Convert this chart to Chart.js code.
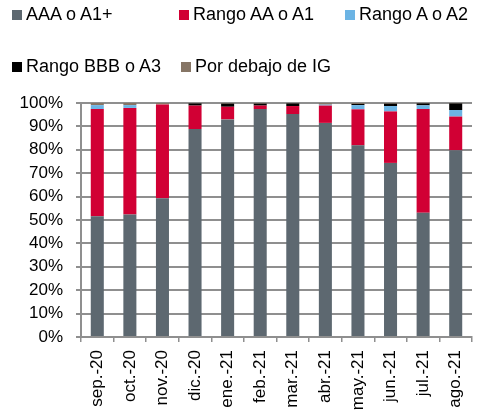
<!DOCTYPE html>
<html>
<head>
<meta charset="utf-8">
<script src="https://cdn.jsdelivr.net/npm/chart.js@4"></script>
<style>
  body { margin: 0; background: #fff; }
  #wrap { position: relative; width: 485px; height: 413px; }
  .leg { position: absolute; font: 18px "Liberation Sans", Arial, sans-serif; line-height: 18px; color: #000; white-space: nowrap; }
  .leg span { display: inline-block; width: 10px; height: 10px; margin-right: 4px; }
</style>
</head>
<body>
<div id="wrap">
  <canvas id="c" width="485" height="413"></canvas>
</div>
<script>
// categorias (meses)
const meses = ['sep.-20','oct.-20','nov.-20','dic.-20','ene.-21','feb.-21','mar.-21','abr.-21','may.-21','jun.-21','jul.-21','ago.-21'];
// series en %
const aaa = [51.6, 52.4, 59.3, 88.9, 93.0, 97.4, 95.3, 91.5, 81.9, 74.4, 53.1, 79.8];
const aa  = [45.8, 45.5, 40.1, 10.0, 5.4, 1.5, 3.4, 7.4, 15.4, 22.0, 44.3, 14.4];
const a   = [1.7, 1.2, 0, 0, 0, 0, 0, 0.4, 1.8, 2.3, 1.6, 2.8];
const bbb = [0, 0, 0, 0.9, 1.3, 0.8, 1.1, 0, 0.5, 1.0, 0.8, 2.8];
const ig  = [0.9, 0.9, 0.6, 0.2, 0.3, 0.3, 0.2, 0.7, 0.4, 0.3, 0.2, 0.2];
const nombres = ['AAA o A1+', 'Rango AA o A1', 'Rango A o A2', 'Rango BBB o A3', 'Por debajo de IG'];
const colores = ['#5d6870', '#d10034', '#6cb4e4', '#000000', '#867565'];
const yTicks = [0, 10, 20, 30, 40, 50, 60, 70, 80, 90, 100];

const series = [aaa, aa, a, bbb, ig];
const fuente = { family: '"Liberation Sans", Arial, sans-serif', size: 17 };
const gris = '#8f8f8f';

// leyenda en html, en dos filas como el original
const posLeyenda = [[12, 5], [179, 5], [345, 5], [12, 57], [181, 57]];
const wrap = document.getElementById('wrap');
nombres.forEach((n, i) => {
  const d = document.createElement('div');
  d.className = 'leg';
  d.style.left = posLeyenda[i][0] + 'px';
  d.style.top = posLeyenda[i][1] + 'px';
  d.innerHTML = '<span style="background:' + colores[i] + '"></span>' + n;
  wrap.appendChild(d);
});

new Chart(document.getElementById('c'), {
  type: 'bar',
  data: {
    labels: meses,
    datasets: series.map((s, i) => ({
      label: nombres[i],
      data: s,
      backgroundColor: colores[i],
      borderWidth: 0,
      categoryPercentage: 1,
      barPercentage: 0.4
    }))
  },
  options: {
    responsive: false,
    animation: false,
    layout: { padding: { left: 0, top: 103, right: 13, bottom: 0 } },
    plugins: { legend: { display: false }, tooltip: { enabled: false } },
    scales: {
      x: {
        stacked: true,
        grid: { offset: true, drawOnChartArea: false, color: gris, lineWidth: 1.5, tickLength: 5 },
        border: { color: gris, width: 2 },
        ticks: { color: '#000', font: fuente, maxRotation: 90, minRotation: 90, padding: 8 },
        afterFit: s => { s.height = 76; }
      },
      y: {
        stacked: true,
        min: 0,
        max: 100,
        afterBuildTicks: s => { s.ticks = yTicks.map(v => ({ value: v })); },
        grid: { color: gris, lineWidth: 2, tickLength: 5 },
        border: { color: gris, width: 2 },
        ticks: { color: '#000', font: fuente, padding: 13, callback: v => v + '%' },
        afterFit: s => { s.width = 81; }
      }
    }
  }
});
</script>
</body>
</html>
